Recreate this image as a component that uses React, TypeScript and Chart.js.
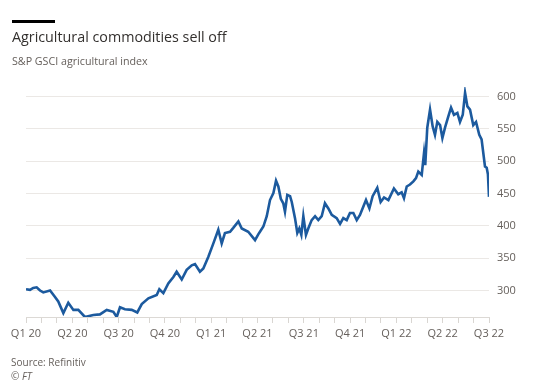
import React, { useEffect, useRef } from "react";
import { Chart, registerables } from "chart.js";

Chart.register(...registerables);

// Months elapsed since 1 Jan 2020 (x) and S&P GSCI agricultural index level (y)
const monthOffsets = [
  0.0, 0.26, 0.47, 0.69, 0.91, 1.12, 1.56, 1.88, 2.09, 2.42, 2.74, 3.07, 3.39, 3.82,
  4.36, 4.79, 5.23, 5.66, 5.88, 6.09, 6.41, 6.85, 7.21, 7.5, 7.93, 8.47, 8.64, 8.9,
  9.22, 9.55, 9.76, 10.09, 10.41, 10.74, 10.95, 11.27, 11.49, 11.81, 12.14, 12.46,
  12.68, 12.89, 13.22, 13.43, 13.76, 13.98, 14.4, 14.84, 15.05, 15.16, 15.38, 15.6,
  15.81, 16.03, 16.2, 16.35, 16.51, 16.67, 16.78, 16.93, 17.11, 17.22, 17.43, 17.58,
  17.71, 17.84, 17.97, 18.14, 18.29, 18.51, 18.73, 18.94, 19.16, 19.37, 19.59, 19.81,
  20.13, 20.35, 20.56, 20.78, 20.99, 21.21, 21.43, 21.64, 21.86, 22.03, 22.25, 22.46,
  22.76, 22.98, 23.2, 23.48, 23.84, 24.12, 24.34, 24.49, 24.67, 24.88, 25.1, 25.27,
  25.42, 25.64, 25.79, 25.87, 26.0, 26.18, 26.35, 26.5, 26.65, 26.83, 26.98, 27.15,
  27.37, 27.54, 27.73, 27.95, 28.12, 28.3, 28.45, 28.6, 28.77, 28.98, 29.16, 29.37,
  29.52, 29.74, 29.85, 29.93, 30.0,
];

const indexValues = [
  302, 301, 304, 305, 300, 297, 300, 290, 283, 265, 281, 270, 270, 259,
  262, 263, 270, 267, 259, 274, 271, 270, 266, 279, 288, 293, 302, 296,
  311, 321, 329, 317, 332, 339, 341, 329, 334, 352, 373, 394,
  373, 389, 391, 397, 407, 396, 391, 378, 387, 391, 399, 415,
  440, 451, 470, 461, 442, 435, 422, 448, 446, 437, 412, 389,
  396, 386, 415, 386, 396, 409, 415, 409, 415, 435, 427, 417,
  412, 403, 412, 409, 420, 420, 409, 417, 430, 440, 427, 446,
  459, 437, 444, 440, 458, 449, 452, 443, 461, 464, 469, 474,
  484, 479, 513, 494, 552, 580, 554, 541, 561, 556, 536, 552,
  570, 583, 572, 575, 561, 572, 606, 585, 580, 556, 561, 541,
  534, 492, 490, 480, 445,
];

const yTicks = [300, 350, 400, 450, 500, 550, 600];
const quarterNames = ["Q1", "Q2", "Q3", "Q4"];

const title = "Agricultural commodities sell off";
const subtitle = "S&P GSCI agricultural index";
const source = "Source: Refinitiv";
const copyright = "© FT";

const FONT = "'Open Sans', 'Noto Sans', sans-serif";

export default function App() {
  const canvasRef = useRef<HTMLCanvasElement | null>(null);

  useEffect(() => {
    if (!canvasRef.current) return;
    const points = monthOffsets.map((m, i) => ({ x: m, y: indexValues[i] }));
    const chart = new Chart(canvasRef.current, {
      type: "line",
      data: {
        datasets: [
          {
            data: points,
            borderColor: "#1c5a9e",
            borderWidth: 2.6,
            pointRadius: 0,
            tension: 0,
            fill: false,
          },
        ],
      },
      options: {
        animation: false,
        responsive: false,
        maintainAspectRatio: false,
        events: [],
        layout: { padding: { left: 26, top: 87, right: 0, bottom: 0 } },
        plugins: { legend: { display: false }, tooltip: { enabled: false }, title: { display: false } },
        scales: {
          x: {
            type: "linear",
            min: 0,
            max: 30,
            afterBuildTicks: (scale: any) => {
              const t = [];
              for (let v = 0; v <= 30; v++) t.push({ value: v });
              scale.ticks = t;
            },
            afterFit: (scale: any) => {
              scale.height = 73;
            },
            grid: {
              display: true,
              drawOnChartArea: false,
              drawTicks: true,
              tickLength: 6,
              color: "#d9d6d2",
              lineWidth: 1,
            },
            border: { display: true, color: "#dcd9d5", width: 1 },
            ticks: {
              autoSkip: false,
              maxRotation: 0,
              padding: 4,
              color: "#66605c",
              font: { family: FONT, size: 11 },
              callback: (v: any) => {
                const n = Number(v);
                if (n % 3 !== 0) return "";
                const q = quarterNames[(n / 3) % 4];
                const yr = 20 + Math.floor(n / 12);
                return `${q} ${yr}`;
              },
            },
          },
          y: {
            type: "linear",
            position: "right",
            min: 259,
            max: 615,
            afterBuildTicks: (scale: any) => {
              scale.ticks = yTicks.map((v) => ({ value: v }));
            },
            afterFit: (scale: any) => {
              scale.width = 58;
            },
            grid: {
              color: "#ebe8e5",
              lineWidth: 1,
              drawTicks: false,
            },
            border: { display: false },
            ticks: {
              padding: 8,
              color: "#66605c",
              font: { family: FONT, size: 11 },
              callback: (v: any) => String(v),
            },
          },
        },
      },
    });
    return () => chart.destroy();
  }, []);

  return (
    <div
      style={{
        position: "fixed",
        left: 0,
        top: 0,
        width: 547,
        height: 390,
        background: "#ffffff",
        fontFamily: FONT,
        overflow: "hidden",
      }}
    >
      <canvas
        ref={canvasRef}
        width={547}
        height={390}
        style={{ position: "absolute", left: 0, top: 0, width: 547, height: 390 }}
      />
      <div style={{ position: "absolute", left: 12, top: 20, width: 43, height: 3, background: "#000" }} />
      <div
        style={{
          position: "absolute",
          left: 12,
          top: 27,
          fontSize: 14.3,
          color: "#33302e",
          whiteSpace: "nowrap",
          lineHeight: "20px",
        }}
      >
        {title}
      </div>
      <div
        style={{
          position: "absolute",
          left: 12,
          top: 53,
          fontSize: 10.7,
          color: "#66605c",
          whiteSpace: "nowrap",
          lineHeight: "16px",
        }}
      >
        {subtitle}
      </div>
      <div
        style={{
          position: "absolute",
          left: 11,
          top: 355,
          fontSize: 10,
          color: "#66605c",
          whiteSpace: "nowrap",
          lineHeight: "14px",
        }}
      >
        {source}
      </div>
      <div
        style={{
          position: "absolute",
          left: 11,
          top: 369,
          fontSize: 10,
          fontStyle: "italic",
          color: "#66605c",
          whiteSpace: "nowrap",
          lineHeight: "14px",
        }}
      >
        {copyright}
      </div>
    </div>
  );
}
